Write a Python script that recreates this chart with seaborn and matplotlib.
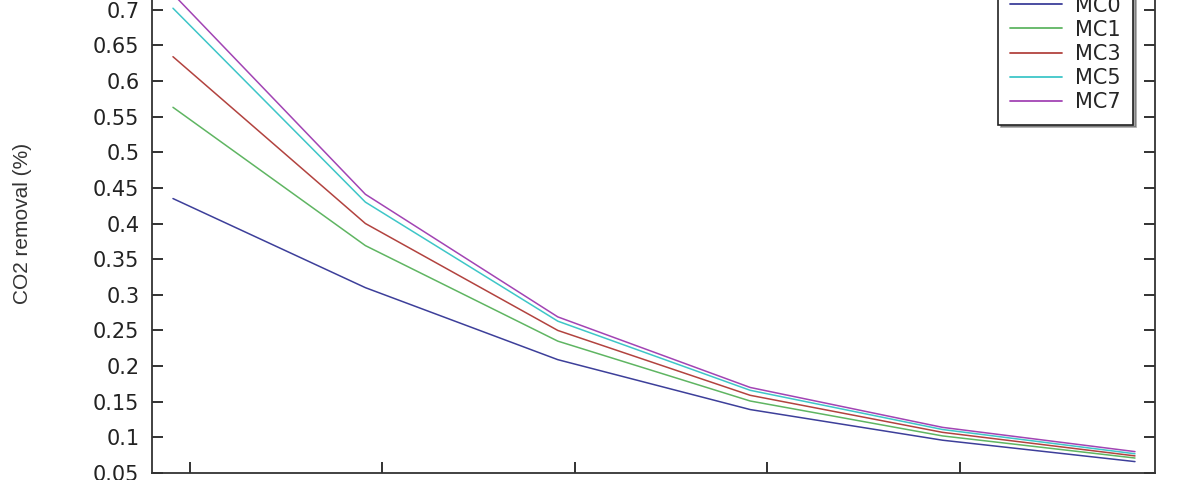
import numpy as np
import pandas as pd
import seaborn as sns
import matplotlib
matplotlib.use("Agg")
import matplotlib.pyplot as plt

# data (x positions are evenly spaced steps)
steps = [0, 1, 2, 3, 4, 5]
series = ['MC0', 'MC1', 'MC3', 'MC5', 'MC7']
mc0 = [0.435, 0.310, 0.209, 0.139, 0.096, 0.066]
mc1 = [0.563, 0.369, 0.235, 0.151, 0.102, 0.071]
mc3 = [0.634, 0.400, 0.250, 0.159, 0.107, 0.074]
mc5 = [0.702, 0.430, 0.263, 0.166, 0.111, 0.077]
mc7 = [0.722, 0.441, 0.269, 0.170, 0.114, 0.080]
yticks = [0.05, 0.1, 0.15, 0.2, 0.25, 0.3, 0.35, 0.4, 0.45, 0.5, 0.55, 0.6, 0.65, 0.7]
ytick_labels = ['0.05', '0.1', '0.15', '0.2', '0.25', '0.3', '0.35', '0.4', '0.45',
                '0.5', '0.55', '0.6', '0.65', '0.7']

colors = ['#3d3f9a', '#5fb562', '#b2433f', '#3ec6c8', '#a244b4']

rows = []
for name, vals in zip(series, [mc0, mc1, mc3, mc5, mc7]):
    for s, v in zip(steps, vals):
        rows.append({'step': s, 'removal': v, 'name': name})
df = pd.DataFrame(rows)

sns.set_style('white')
plt.rcParams['font.family'] = ['DejaVu Sans']

fig = plt.figure(figsize=(12, 4.8), dpi=100)
# axes box extends past the top of the picture, like the cropped original
ax = fig.add_axes([152/1200, 7/480, 1003/1200, 499/480])

sns.lineplot(data=df, x='step', y='removal', hue='name', palette=colors,
             linewidth=1.1, ax=ax, legend=True)

ax.set_xlim(-0.109, 5.104)
ax.set_ylim(0.05, 0.75)
ax.set_xticks([s + 0.088 for s in steps[:-1]])
ax.set_xticklabels([])
ax.set_yticks(yticks)
ax.set_yticklabels(ytick_labels, fontsize=15, color='#222222')
ax.tick_params(axis='both', direction='in', length=8, width=1.3, color='#222222',
               right=True, top=True, left=True, bottom=True, pad=9)
ax.set_xlabel('')
ax.set_ylabel('CO2 removal (%)', family=['Liberation Sans', 'DejaVu Sans'],
              fontsize=15, color='#333333', labelpad=44)
for sp in ax.spines.values():
    sp.set_color('#333333')
    sp.set_linewidth(1.3)

leg = ax.legend(loc='upper right', bbox_to_anchor=(1133/1200, 1 + 17/480),
                bbox_transform=fig.transFigure, frameon=True, fancybox=False,
                shadow=True, edgecolor='#222222', fontsize=15,
                handlelength=2.5, handletextpad=0.6, labelspacing=0.2,
                borderpad=0.6, borderaxespad=0, title=None)
leg.get_frame().set_linewidth(1.2)
for line in leg.get_lines():
    line.set_linewidth(1.3)

fig.savefig('out.png', dpi=100)
